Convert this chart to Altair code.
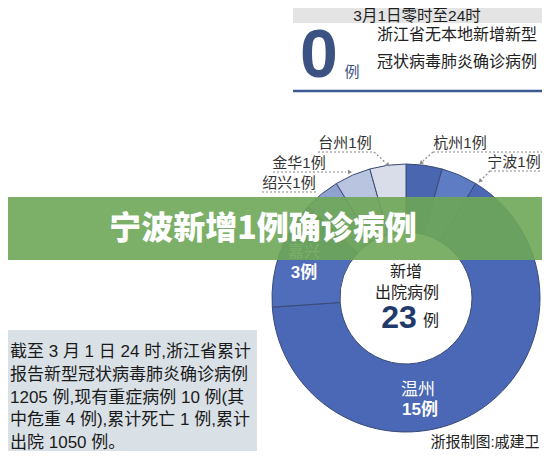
import altair as alt
import pandas as pd

# ---- data ----
cities = ["杭州", "宁波", "温州", "嘉兴", "绍兴", "金华", "台州"]
counts = [1, 1, 15, 3, 1, 1, 1]
slice_colors = ["#4a66b0", "#5d7cc4", "#4a68b5", "#4f6dba", "#8fa2d1", "#b9c4e0", "#d8dde9"]
total_new_discharged = 23
header_date = "3月1日零时至24时"
header_count = 0
header_lines = ["浙江省无本地新增新型", "冠状病毒肺炎确诊病例"]
banner = "宁波新增1例确诊病例"
summary_lines = [
    "截至 3 月 1 日 24 时,浙江省累计",
    "报告新型冠状病毒肺炎确诊病例",
    "1205 例,现有重症病例 10 例(其",
    "中危重 4 例),累计死亡 1 例,累计",
    "出院 1050 例。",
]
credit = "浙报制图:戚建卫"

OFF = 8  # page margin
FONT = "Liberation Sans, Noto Sans CJK SC"
one = pd.DataFrame({"a": [0]})


def X(v):
    return alt.value(v - OFF)


def text(t, x, y, size=16, color="#222222", weight="normal", align="center", font=FONT):
    return alt.Chart(pd.DataFrame({"t": [t]})).mark_text(
        fontSize=size, color=color, fontWeight=weight, align=align,
        baseline="middle", font=font
    ).encode(x=X(x), y=X(y), text="t:N")


def rect(x1, y1, x2, y2, color, opacity=1.0):
    return alt.Chart(one).mark_rect(color=color, opacity=opacity).encode(
        x=X(x1), x2=X(x2), y=X(y1), y2=X(y2))


def rule(x1, y1, x2, y2, color="#888888", width=1.2, dash=None):
    kw = dict(color=color, strokeWidth=width)
    if dash:
        kw["strokeDash"] = dash
    return alt.Chart(one).mark_rule(**kw).encode(
        x=X(x1), x2=X(x2), y=X(y1), y2=X(y2))


def arrow(x, y, angle):
    return alt.Chart(one).mark_point(shape="triangle-up", filled=True, size=22,
                                     color="#888888", angle=angle, opacity=1).encode(
        x=X(x), y=X(y))


df = pd.DataFrame({"city": cities, "n": counts, "idx": list(range(len(cities)))})

layers = []

# header
layers.append(rect(293, 0, 550, 23, "#e4e4e4"))
layers.append(text(header_date, 417, 15.5, size=15.5, color="#1e1e1e"))
layers.append(text(str(header_count), 319, 57, size=68, color="#3b5283", weight="bold"))
layers.append(text("例", 352, 72, size=15, color="#3b5283"))
layers.append(text(header_lines[0], 377, 35, size=16, align="left"))
layers.append(text(header_lines[1], 377, 62, size=16, align="left"))
layers.append(rule(293, 91, 550, 91, color="#3c5a8f", width=2.5))

# donut
ring = alt.Chart(df).mark_arc(innerRadius=66, outerRadius=134, stroke="#3a4a78",
                              strokeWidth=1).encode(
    theta=alt.Theta("n:Q", stack=True),
    order=alt.Order("idx:Q"),
    color=alt.Color("city:N", scale=alt.Scale(domain=cities, range=slice_colors), legend=None),
    x=X(406), y=X(298),
)
layers.append(ring)

# labels inside ring
layers.append(text(cities[3], 304, 252, size=16, color="#ffffff"))
layers.append(text(f"{counts[3]}例", 304, 273, size=17, color="#ffffff", weight="bold"))
layers.append(text(cities[2], 418, 390, size=17, color="#ffffff"))
layers.append(text(f"{counts[2]}例", 420, 410, size=17, color="#ffffff", weight="bold"))

# center
layers.append(text("新增", 406, 272, size=16))
layers.append(text("出院病例", 407, 293, size=16))
layers.append(text(str(total_new_discharged), 399, 318, size=32, color="#1f3a6b", weight="bold"))
layers.append(text("例", 431, 321, size=16, color="#222222"))

# outside labels with leaders
ext = {"台州": (345, 143), "金华": (299, 163), "绍兴": (289, 183), "杭州": (460, 143), "宁波": (514, 162)}
for c, n in zip(cities, counts):
    if c in ext:
        lx, ly = ext[c]
        layers.append(text(f"{c}{n}例", lx, ly, size=15, color="#333333"))

dash = [2, 2]
layers.append(rule(318, 152, 374, 152, dash=dash))
layers.append(rule(374, 152, 386, 163, dash=dash))
layers.append(arrow(388, 165, 135))
layers.append(rule(273, 172, 346, 172, dash=dash))
layers.append(arrow(350, 172, 90))
layers.append(rule(262, 192, 318, 192, dash=dash))
layers.append(rule(433, 152, 550, 152, dash=dash))
layers.append(rule(433, 152, 423, 161, dash=dash))
layers.append(arrow(421, 163, 225))
layers.append(rule(490, 171, 550, 171, dash=dash))
layers.append(rule(490, 171, 482, 179, dash=dash))
layers.append(arrow(480, 181, 225))

# green banner overlay
layers.append(rect(0, 197, 550, 260, "#6ea657", opacity=0.9))
layers.append(text(banner, 263, 229, size=32, color="#ffffff", weight=900,
                   font="Noto Sans CJK SC"))

# summary box
layers.append(rect(0, 330, 257, 459, "#d9e1e7"))
for i, line in enumerate(summary_lines):
    layers.append(text(line, 10, 352 + i * 22.8, size=17, color="#1a1a1a", align="left"))

# credit
layers.append(text(credit, 485, 442, size=15, color="#222222"))

chart = alt.layer(*layers).properties(
    width=534, height=443, padding=0,
    autosize=alt.AutoSizeParams(type="none"),
    background="#ffffff",
).configure_view(stroke=None)

chart.save("out.html", embed_options={"renderer": "svg", "actions": False})
